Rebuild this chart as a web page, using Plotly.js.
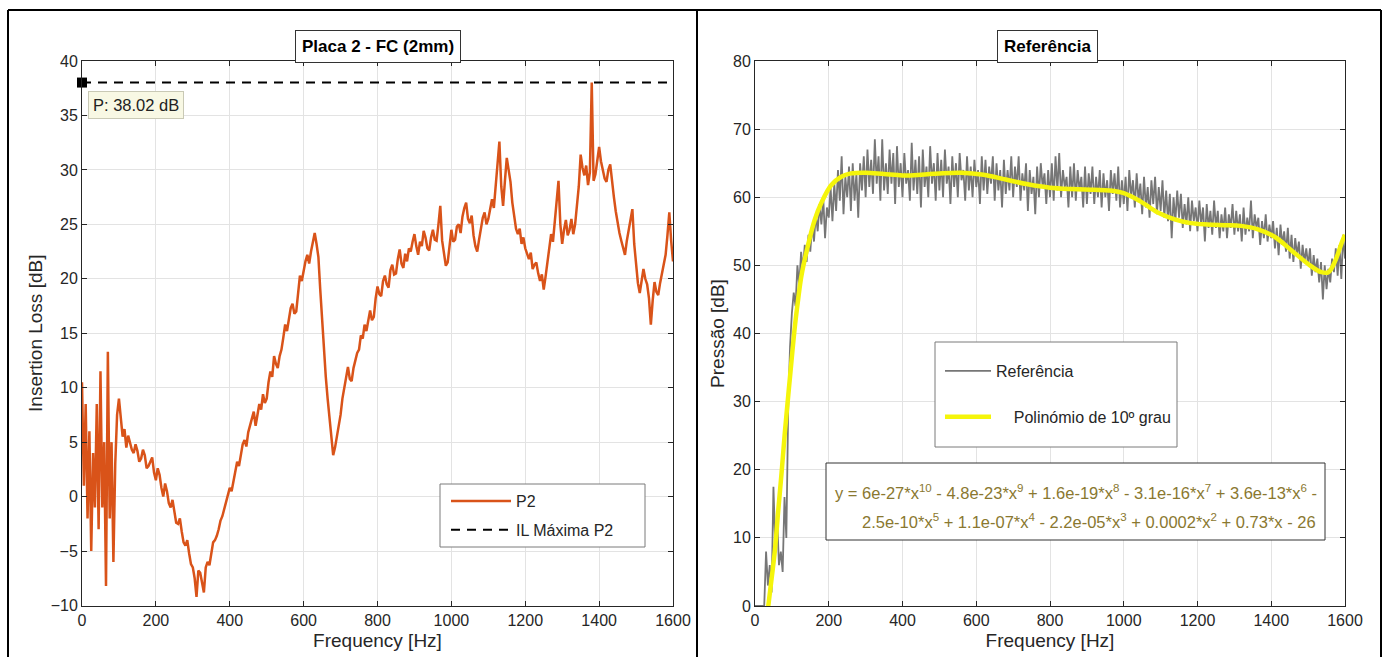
<!DOCTYPE html>
<html>
<head>
<meta charset="utf-8">
<script src="https://cdn.plot.ly/plotly-3.0.1.min.js"></script>
<style>html,body{margin:0;padding:0;background:#fff;}#chart{width:1386px;height:657px;}</style>
</head>
<body>
<div id="chart"></div>
<script>
// ---------- Left panel: Placa 2 - FC (2mm) -- Insertion Loss P2, sampled every 5 Hz ----------
const p2Step = 5;
const p2Values = [
 10.5,1,8.5,-2,6,-5,4,-1,8.5,-3,11.5,-1,5,-8.2,13.3,-2,5,-6,3,7.5,
 9,7.5,5.5,6.2,4.5,5.6,5,4.3,4,4.8,4.2,3.2,3.5,4.3,3.8,2.6,2.8,3.3,3.6,2.2,
 1.5,2.6,2,0.8,0,1.2,0.5,-0.6,-1,-0.3,-1.5,-2.4,-2.5,-2,-3.2,-4.2,-4.5,-4,-5.2,-6.2,
 -6.5,-7.5,-9.2,-6.8,-7,-7.8,-8.8,-6.5,-6,-6.3,-5.2,-4.2,-4,-3.6,-3,-2.2,-1.8,-1.2,-0.5,0.2,
 0.8,0.5,1.5,2.5,3.2,2.8,3.8,4.8,5.2,4.6,5.9,6.5,7,7.8,6.5,7.7,8.5,8,9.4,8.6,
 9,10.5,11.5,11,12.9,12.2,11.8,12.9,13.5,14.6,15.8,15.2,16.4,17.3,17.7,16.8,17,18.8,20.3,19.8,
 20.8,21.6,22.2,21.4,22.5,23.5,24.2,23.2,22,19,16,13.8,11,9,7,5.2,3.8,4.5,5.5,6.8,
 7.5,9,10,11.2,11.9,10.8,10.6,11.8,12.5,13.2,13.5,14.8,14.5,15.8,15.2,16.3,17.1,16.2,16.5,18.2,
 19.3,18.6,18.4,19.8,20.3,19.5,19.2,20.8,21.3,20.4,20.5,21.8,22.7,21.4,21,22.3,21.6,22.8,22.5,23.4,
 24.1,23,22.2,23.4,23,24.4,23.8,22.8,22.6,23.8,24.5,23.6,23.5,25,26.7,23.5,22.2,21.2,21.5,23.2,
 24.5,23.4,23.6,24.8,25,24.2,25.7,26.5,27,25.5,25.1,25.8,24,23,22.5,23.6,24.8,25.6,26.1,25,
 25.5,26.6,27.3,26.5,28.5,30.5,32.6,28.5,26.7,29,31.1,30,28.9,27,25.5,24.6,24.1,24.6,23.2,23.8,
 22.8,22.2,21.8,22.4,20.9,21.3,21.5,20.5,19.8,20.4,19,20.2,21.5,23,24.1,23.4,25.5,27,29,25,
 23.2,24.5,25.4,24,24.5,25.5,24.1,25,26.5,28.5,31.4,30.2,29.5,30.4,28.6,29.8,38.02,29,29.6,31,
 32.1,30.8,30,29.2,28.9,30,30.5,28.8,27.5,26.2,25.1,24.2,23.5,22.8,22.2,23.5,24.5,25.6,26.4,23.2,
 21,19.6,18.7,19.8,20.9,20,19.5,18.2,15.8,18,19.7,18.8,18.5,19.6,20.5,21.2,22.2,24,26.1,23.5,
 21.6];
const p2Freq = p2Values.map((_, i) => i * p2Step);
const ilMaxFreq = [0, 1600];
const ilMaxValue = [38.02, 38.02];
const tipFreq = [0];
const tipValue = [38.02];

// ---------- Right panel: Referência, sampled every 5 Hz ----------
const refStep = 5;
const refValues = [
 0,0,0,0,0,0,8,3,6,2,17.5,9,13,6,8,5,16,10,29,38,
 43,46,44,50,47,52,49.5,53,50.5,54.5,52,56,53.5,57.5,55,59,56,60,54,58.5,
 57,61.5,56.5,62,58,64,59.5,66,57.5,63,60,64.5,58,65,59.5,63.5,57,65,61,66,
 60,67,61.5,65.5,60.5,68.5,62,66,59.5,68.5,61,65,60.5,67,62,66.5,59,67.5,61.5,65,
 60,66.5,62,64,59.5,68,61,65.5,60.5,66,58.5,67,61.5,64.5,60,67.5,62,65,59.5,66.5,
 61,65.5,60,67,62,64.5,59,66,61.5,65,60,66.5,62.5,64,59.5,66,61,64.5,60,65.5,
 61.5,64,59,66,61,65.5,60.5,64.5,62,66,59.5,65,61,64,58.5,65.5,60.5,64,61,66,
 60,64.5,61.5,66,59.5,63.5,61,65,58,64,60.5,63,57.5,64.5,60,65,61.5,63.5,59,64,
 60,65,59.5,66,61,66.5,60,64,61.5,63,58.5,64.5,60,65,59.5,64,61,63,58.5,64.5,
 59,63.5,60.5,64.5,59,63,60,64,58.5,63.5,60,62.5,58,64,60.5,63.5,59.5,64.5,58.5,62.5,
 59,63,58,64,60,62.5,58.5,63.5,59.5,62,57.5,63,58.5,61.5,57,62.5,59,63,57.5,61.5,
 58,62.5,57,61,56.5,60.5,54,60,56.5,61,57,60.5,55.5,59,56,60,55,59.5,56.5,58.5,
 55,59.5,56,58.5,53.5,59,55.5,58,54.5,59.5,55.5,58,54,57.5,55,58.5,54,57.5,55.5,59,
 54.5,58,55,57.5,53.5,58.5,54.5,57,55,59.5,54,57.5,55.5,57,53,56.5,54,57.5,53.5,56,
 54,56.5,52.5,55.5,51.5,56,53,55,52,55.5,51,54.5,50.5,54,51.5,53.5,49.5,53,50.5,52.5,
 50,52.5,48.5,51.5,49,51,47.5,50.5,45,50,46.5,49.5,47.5,51,49,52.5,48.5,53,48,54.5,
 51];
const refFreq = refValues.map((_, i) => i * refStep);
const fitFreq = [30,36,45,54,63,72,81,90,99,108,117,126,144,162,180,207,234,260,300,350,400,450,500,560,620,680,740,800,860,920,960,1000,1045,1091,1136,1182,1227,1273,1318,1364,1409,1455,1500,1536,1555,1573,1591,1600];
const fitValues = [-3,0,4,8.2,14,19.5,25.5,30.8,36,41,45,48.5,53,56.7,59.2,61.8,63,63.5,63.6,63.4,63.2,63.3,63.5,63.6,63.3,62.6,61.9,61.4,61.2,61.1,61,60.6,59.4,57.8,56.8,56.2,56,55.9,55.8,55.3,54.2,52.2,50.2,49,49,50.6,53.3,54.5];

const leftTitle = 'Placa 2 - FC (2mm)';
const rightTitle = 'Referência';
const xTitle = 'Frequency [Hz]';
const leftYTitle = 'Insertion Loss [dB]';
const rightYTitle = 'Pressão [dB]';
const tipText = 'P: 38.02 dB';
const eqLine1 = 'y = 6e-27*x<sup>10</sup> - 4.8e-23*x<sup>9</sup> + 1.6e-19*x<sup>8</sup> - 3.1e-16*x<sup>7</sup> + 3.6e-13*x<sup>6</sup> -';
const eqLine2 = '2.5e-10*x<sup>5</sup> + 1.1e-07*x<sup>4</sup> - 2.2e-05*x<sup>3</sup> + 0.0002*x<sup>2</sup> + 0.73*x - 26';

const W = 1386, H = 657;
const PX = v => v / W;
const PY = v => 1 - v / H;
const FONT = 'Liberation Sans, Arial, sans-serif';
const TXT = '#262626';

const traces = [
  {x: p2Freq, y: p2Values, type: 'scatter', mode: 'lines', name: 'P2',
   line: {color: '#D95319', width: 2.5}, xaxis: 'x', yaxis: 'y', legend: 'legend', legendgroup: 'p'},
  {x: ilMaxFreq, y: ilMaxValue, type: 'scatter', mode: 'lines', name: 'IL Máxima P2',
   line: {color: '#000000', width: 2, dash: '9px,7px'}, xaxis: 'x', yaxis: 'y', legend: 'legend', legendgroup: 'q'},
  {x: tipFreq, y: tipValue, type: 'scatter', mode: 'markers', showlegend: false,
   marker: {symbol: 'square', size: 10, color: '#000'}, cliponaxis: false, xaxis: 'x', yaxis: 'y'},
  {x: refFreq, y: refValues, type: 'scatter', mode: 'lines', name: 'Referência',
   line: {color: '#767676', width: 1.8}, xaxis: 'x2', yaxis: 'y2', legend: 'legend2', legendgroup: 'a'},
  {x: fitFreq, y: fitValues, type: 'scatter', mode: 'lines', name: '    Polinómio de 10º grau',
   line: {color: '#F5F50A', width: 4.5, shape: 'spline', smoothing: 1}, xaxis: 'x2', yaxis: 'y2', legend: 'legend2', legendgroup: 'b'}
];

const axisCommon = {
  showline: true, linecolor: '#262626', linewidth: 1, mirror: 'ticks',
  ticks: 'inside', ticklen: 5, tickcolor: '#262626',
  showgrid: true, gridcolor: '#e3e3e3', gridwidth: 1, zeroline: false,
  tickfont: {family: FONT, size: 16, color: TXT}, automargin: false
};

const layout = {
  width: W, height: H,
  margin: {l: 0, r: 0, t: 0, b: 0},
  paper_bgcolor: '#fff', plot_bgcolor: '#fff',
  font: {family: FONT, color: TXT},
  xaxis: Object.assign({}, axisCommon, {domain: [PX(82), PX(673)], range: [0, 1600], dtick: 200, anchor: 'y',
    title: {text: xTitle, font: {size: 19, color: TXT}, standoff: 5}}),
  yaxis: Object.assign({}, axisCommon, {domain: [PY(605.5), PY(61)], range: [-10, 40], dtick: 5, anchor: 'x',
    title: {text: leftYTitle, font: {size: 19, color: TXT}, standoff: 3}}),
  xaxis2: Object.assign({}, axisCommon, {domain: [PX(755), PX(1345)], range: [0, 1600], dtick: 200, anchor: 'y2',
    title: {text: xTitle, font: {size: 19, color: TXT}, standoff: 5}}),
  yaxis2: Object.assign({}, axisCommon, {domain: [PY(606), PY(61)], range: [0, 80], dtick: 10, anchor: 'x2',
    title: {text: rightYTitle, font: {size: 19, color: TXT}, standoff: 3}}),
  showlegend: true,
  legend: {x: PX(446), y: PY(484), xanchor: 'left', yanchor: 'top', bgcolor: 'rgba(0,0,0,0)', borderwidth: 0,
    font: {family: FONT, size: 16, color: TXT}, itemwidth: 60, tracegroupgap: 5},
  legend2: {x: PX(940), y: PY(354), xanchor: 'left', yanchor: 'top', bgcolor: 'rgba(0,0,0,0)', borderwidth: 0,
    font: {family: FONT, size: 16, color: TXT}, itemwidth: 46, tracegroupgap: 22},
  shapes: [
    {type: 'line', xref: 'paper', yref: 'paper', x0: PX(8), x1: PX(1381), y0: PY(10), y1: PY(10), line: {color: '#000', width: 2}},
    {type: 'line', xref: 'paper', yref: 'paper', x0: PX(8), x1: PX(8), y0: PY(10), y1: 0, line: {color: '#000', width: 2}},
    {type: 'line', xref: 'paper', yref: 'paper', x0: PX(697), x1: PX(697), y0: PY(10), y1: 0, line: {color: '#000', width: 2}},
    {type: 'line', xref: 'paper', yref: 'paper', x0: PX(1381), x1: PX(1381), y0: PY(10), y1: 0, line: {color: '#000', width: 2}},
    {type: 'rect', xref: 'paper', yref: 'paper', x0: PX(440), x1: PX(645), y0: PY(547), y1: PY(484), layer: 'above',
     fillcolor: '#fff', line: {color: '#7a7a7a', width: 1}},
    {type: 'rect', xref: 'paper', yref: 'paper', x0: PX(935), x1: PX(1177), y0: PY(447), y1: PY(342), layer: 'above',
     fillcolor: '#fff', line: {color: '#7a7a7a', width: 1}},
    {type: 'rect', xref: 'paper', yref: 'paper', x0: PX(826), x1: PX(1325), y0: PY(540), y1: PY(463), layer: 'above',
     fillcolor: '#fff', line: {color: '#333', width: 1}}
  ],
  annotations: [
    {xref: 'paper', yref: 'paper', x: PX(378), y: PY(46), xanchor: 'center', yanchor: 'middle', text: '<b>' + leftTitle + '</b>', showarrow: false,
     font: {family: FONT, size: 17, color: '#000'}, bgcolor: '#fff', bordercolor: '#333', borderwidth: 1, borderpad: 6},
    {xref: 'paper', yref: 'paper', x: PX(1047), y: PY(46), xanchor: 'center', yanchor: 'middle', text: '<b>' + rightTitle + '</b>', showarrow: false,
     font: {family: FONT, size: 17, color: '#000'}, bgcolor: '#fff', bordercolor: '#333', borderwidth: 1, borderpad: 6},
    {xref: 'paper', yref: 'paper', x: PX(88), y: PY(105), xanchor: 'left', yanchor: 'middle', text: tipText, showarrow: false,
     font: {family: FONT, size: 16.5, color: '#222'}, bgcolor: '#f8f8e4', bordercolor: '#c9c9b5', borderwidth: 1, borderpad: 4},
    {xref: 'paper', yref: 'paper', x: PX(1076), y: PY(492), xanchor: 'center', yanchor: 'middle', text: eqLine1, showarrow: false,
     font: {family: FONT, size: 16.5, color: '#8a7830'}},
    {xref: 'paper', yref: 'paper', x: PX(1089), y: PY(521), xanchor: 'center', yanchor: 'middle', text: eqLine2, showarrow: false,
     font: {family: FONT, size: 16.5, color: '#8a7830'}}
  ]
};

Plotly.newPlot('chart', traces, layout, {staticPlot: true, displayModeBar: false});
</script>
</body>
</html>
